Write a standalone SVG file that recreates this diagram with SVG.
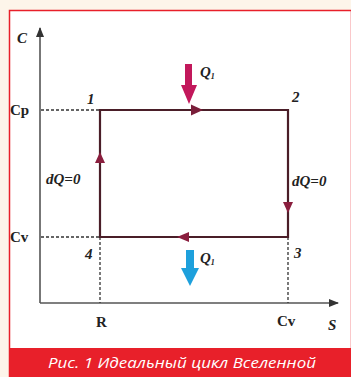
<svg xmlns="http://www.w3.org/2000/svg" width="351" height="377" viewBox="0 0 351 377">
<defs>
<style>
.axis{stroke:#555;stroke-width:1.6;fill:none}
.guide{stroke:#333;stroke-width:1.3;stroke-dasharray:3 2;fill:none}
.cyc{stroke:#4a1e28;stroke-width:2.2;fill:none}
.lbl{font-family:"Liberation Serif",serif;font-size:15px;fill:#222}
.it{font-style:italic}
.b{font-weight:bold}
.cap{font-family:"Open Sans","Liberation Sans",sans-serif;font-style:italic;font-size:15px;fill:#fff}
</style>
<marker id="ax" markerWidth="10" markerHeight="8" refX="9" refY="4" orient="auto" markerUnits="userSpaceOnUse">
<path d="M0,0 L10,4 L0,8 Z" fill="#333"/>
</marker>
</defs>
<rect x="0" y="0" width="351" height="377" fill="#fdf5ea"/>
<rect x="9.5" y="10.5" width="342" height="366" fill="#fff" stroke="#e8202a" stroke-width="1.5"/>
<g id="caption">
<rect x="9" y="348" width="342" height="29" fill="#e8202a"/>
<text class="cap" x="48" y="368" textLength="268" lengthAdjust="spacingAndGlyphs">Рис. 1 Идеальный цикл Вселенной</text>
</g>
<g id="connectors">
<line class="axis" x1="40" y1="303" x2="40" y2="28" marker-end="url(#ax)"/>
<line class="axis" x1="40" y1="303" x2="338" y2="303" marker-end="url(#ax)"/>
<line class="guide" x1="41" y1="110" x2="100" y2="110"/>
<line class="guide" x1="41" y1="237" x2="100" y2="237"/>
<line class="guide" x1="100" y1="237" x2="100" y2="303"/>
<line class="guide" x1="288" y1="237" x2="288" y2="303"/>
<path class="cyc" d="M100,110 H288 V237 H100 Z"/>
<path d="M191,104.5 L203,110 L191,115.5 Z" fill="#7a1e3a"/>
<path d="M283,202 L288,213 L293,202 Z" fill="#8a1e3e"/>
<path d="M189,232 L177,237 L189,242 Z" fill="#8a1e3e"/>
<path d="M95,163 L100,152 L105,163 Z" fill="#8a1e3e"/>
</g>
<g id="q-in">
<path d="M185,64 H192 V85 H197 L189,104 L181,85 H185 Z" fill="#c2185b"/>
<text class="lbl it b" x="200" y="77" font-size="12">Q<tspan font-size="8" dy="2">1</tspan></text>
</g>
<g id="q-out">
<path d="M186,250 H194 V268 H199 L190,286 L181,268 H186 Z" fill="#1ea0dc"/>
<text class="lbl it b" x="200" y="263" font-size="12">Q<tspan font-size="8" dy="2">1</tspan></text>
</g>
<g id="axis-labels">
<text class="lbl it b" x="17" y="43" font-size="16">C</text>
<text class="lbl it b" x="328" y="330" font-size="16">S</text>
<text class="lbl b" x="10" y="115">Cp</text>
<text class="lbl b" x="10" y="242">Cv</text>
<text class="lbl b" x="96" y="327">R</text>
<text class="lbl b" x="277" y="326">Cv</text>
</g>
<g id="p1"><text class="lbl it b" x="87" y="104">1</text></g>
<g id="p2"><text class="lbl it b" x="292" y="102">2</text></g>
<g id="p3"><text class="lbl it b" x="294" y="258">3</text></g>
<g id="p4"><text class="lbl it b" x="85" y="259">4</text></g>
<g id="edge-labels">
<text class="lbl it b" x="46" y="184" font-size="14">dQ=0</text>
<text class="lbl it b" x="292" y="186" font-size="14">dQ=0</text>
</g>
</svg>
